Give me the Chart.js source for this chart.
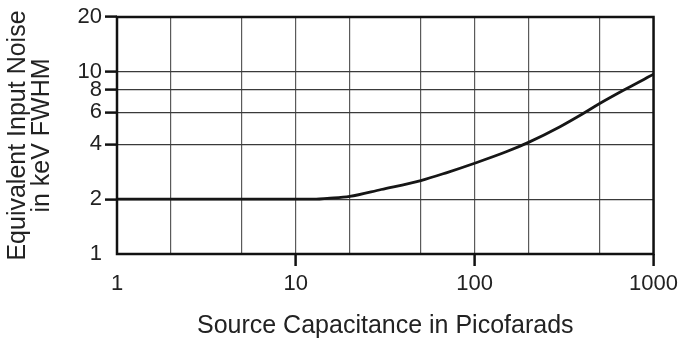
<!DOCTYPE html>
<html>
<head>
<meta charset="utf-8">
<script src="https://cdn.jsdelivr.net/npm/chart.js@4/dist/chart.umd.min.js"></script>
<style>
  html, body { margin: 0; padding: 0; background: #fff; }
  #wrap { width: 683px; height: 341px; }
</style>
</head>
<body>
<div id="wrap"><canvas id="noiseChart"></canvas></div>
<script>
// values
const capacitance = [1, 2, 5, 10, 13, 15, 20, 30, 50, 70, 100, 150, 200, 300, 400, 500, 700, 1000];
const noise = [2, 2, 2, 2, 2, 2.02, 2.07, 2.26, 2.53, 2.8, 3.15, 3.64, 4.1, 5.0, 5.87, 6.7, 8.05, 9.7];

const xGridValues = [1, 2, 5, 10, 20, 50, 100, 200, 500, 1000];
const xTickLabels = [1, 10, 100, 1000];
const yGridValues = [1, 2, 4, 6, 8, 10, 20];
const yTickLabels = [1, 2, 4, 6, 8, 10, 20];

const font = "'Liberation Sans', Arial, Helvetica, sans-serif";

// frame around the plot area
const framePlugin = {
    id: 'frame',
    afterDatasetsDraw(chart) {
        const { ctx, chartArea } = chart;
        ctx.save();
        ctx.strokeStyle = '#111';
        ctx.lineWidth = 2.5;
        ctx.strokeRect(chartArea.left, chartArea.top, chartArea.right - chartArea.left, chartArea.bottom - chartArea.top);
        ctx.restore();
    }
};

const ctx = document.getElementById('noiseChart').getContext('2d');
new Chart(ctx, {
    type: 'line',
    data: {
        datasets: [{
            data: capacitance.map((c, i) => ({ x: c, y: noise[i] })),
            borderColor: '#161616',
            borderWidth: 2.8,
            pointRadius: 0,
            cubicInterpolationMode: 'monotone',
            fill: false
        }]
    },
    options: {
        responsive: true,
        maintainAspectRatio: false,
        animation: false,
        layout: { padding: { top: 17, right: 29, left: 0, bottom: 0 } },
        plugins: {
            legend: { display: false },
            tooltip: { enabled: false }
        },
        scales: {
            x: {
                type: 'logarithmic',
                min: 1,
                max: 1000,
                afterBuildTicks: scale => { scale.ticks = xGridValues.map(v => ({ value: v })); },
                afterFit: scale => { scale.height = 87; },
                border: { display: false },
                grid: {
                    color: '#5a5a5a',
                    lineWidth: 1.2,
                    tickLength: 12,
                    tickWidth: 2.5,
                    tickColor: c => (c.tick && xTickLabels.includes(c.tick.value) && c.tick.value !== 1) ? '#111' : 'rgba(0,0,0,0)'
                },
                ticks: {
                    autoSkip: false,
                    maxRotation: 0,
                    padding: 5,
                    color: '#222',
                    font: { family: font, size: 22 },
                    callback: v => xTickLabels.includes(v) ? String(v) : ''
                },
                title: {
                    display: true,
                    text: 'Source Capacitance in Picofarads',
                    color: '#222',
                    font: { family: font, size: 25 },
                    padding: { top: 4, bottom: 0 }
                }
            },
            y: {
                type: 'logarithmic',
                min: 1,
                max: 20,
                afterBuildTicks: scale => { scale.ticks = yGridValues.map(v => ({ value: v })); },
                afterFit: scale => { scale.width = 117; },
                border: { display: false },
                grid: {
                    color: '#3a3a3a',
                    lineWidth: 1.2,
                    tickLength: 12,
                    tickWidth: 2.5,
                    tickColor: c => (c.tick && c.tick.value !== 1) ? '#111' : 'rgba(0,0,0,0)'
                },
                ticks: {
                    autoSkip: false,
                    padding: 3,
                    color: '#222',
                    font: { family: font, size: 22 },
                    callback: v => yTickLabels.includes(v) ? String(v) : ''
                },
                title: {
                    display: true,
                    text: ['Equivalent Input Noise', 'in keV FWHM'],
                    color: '#222',
                    font: { family: font, size: 25, lineHeight: 0.96 },
                    padding: { top: 6, bottom: 0 }
                }
            }
        }
    },
    plugins: [framePlugin]
});
</script>
</body>
</html>
